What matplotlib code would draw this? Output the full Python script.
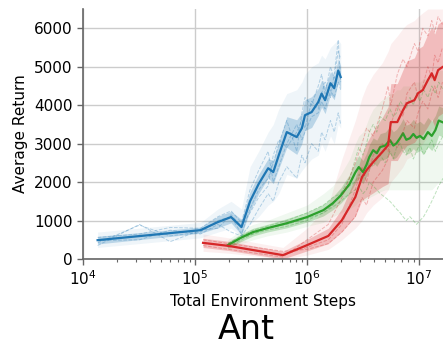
import numpy as np
import matplotlib.pyplot as plt

# blue run (short, ~2e6 steps)
blue_x = [1.35e4, 1.12e5, 1.6e5, 2.1e5, 2.6e5, 3.1e5, 3.7e5, 4.5e5, 5.0e5, 5.6e5, 6.6e5,
          8.1e5, 9.0e5, 9.6e5, 1.1e6, 1.26e6, 1.35e6, 1.45e6, 1.62e6, 1.75e6, 1.9e6, 2.0e6]
blue_mean = [490, 750, 960, 1090, 830, 1500, 1950, 2360, 2260, 2700, 3300,
             3170, 3400, 3740, 3820, 4080, 4300, 4130, 4570, 4440, 4900, 4730]
blue_std = [100, 80, 150, 150, 200, 250, 250, 250, 300, 350, 400,
            450, 400, 400, 400, 350, 350, 350, 300, 300, 300, 300]
blue_min = [300, 550, 700, 800, 600, 900, 1100, 1400, 1500, 1700, 2200,
            2100, 2300, 2400, 2600, 2700, 3000, 2800, 3200, 3000, 3500, 3400]
blue_max = [700, 950, 1300, 1500, 1300, 2400, 2800, 3300, 3500, 3900, 4300,
            4400, 4600, 4800, 5000, 5100, 5300, 5200, 5500, 5600, 5700, 5600]
blue_run_x = [1.35e4, 3.2e4, 6.0e4, 1.12e5, 1.6e5, 2.1e5, 2.6e5, 3.1e5, 3.7e5, 4.5e5, 5.0e5, 5.6e5,
              6.6e5, 8.1e5, 9.0e5, 9.6e5, 1.1e6, 1.26e6, 1.35e6, 1.45e6, 1.62e6, 1.75e6, 1.9e6, 2.0e6]
blue_runs = [
    [420, 880, 600, 700, 1000, 1100, 650, 1300, 1800, 2100, 2500, 3000,
     3600, 2800, 3800, 4200, 4000, 4500, 4800, 4300, 5000, 4700, 5400, 5200],
    [560, 650, 820, 800, 1100, 1250, 950, 1800, 2300, 2800, 2000, 2400,
     3000, 3500, 3100, 3300, 3700, 3800, 4100, 3900, 4400, 4200, 4600, 4400],
    [350, 900, 450, 750, 800, 1150, 850, 1200, 1600, 1900, 2700, 3100,
     2900, 3300, 3600, 3400, 4100, 3900, 4300, 4600, 4200, 4800, 5700, 4600],
    [480, 500, 750, 650, 900, 700, 600, 900, 1300, 1700, 1500, 2000,
     2400, 2100, 2700, 2500, 3000, 2800, 3300, 3100, 3600, 3300, 3800, 3500],
]

# green
green_x = [1.96e5, 2.6e5, 3.3e5, 4.4e5, 6.6e5, 1.0e6, 1.4e6, 1.7e6, 2.0e6, 2.4e6,
           2.7e6, 2.9e6, 3.16e6, 3.4e6, 3.6e6, 3.9e6, 4.2e6, 4.5e6, 5.0e6, 5.5e6,
           5.9e6, 6.3e6, 6.8e6, 7.2e6, 7.7e6, 8.3e6, 8.9e6, 9.5e6, 1.02e7, 1.1e7,
           1.2e7, 1.3e7, 1.4e7, 1.5e7, 1.64e7]
green_mean = [360, 560, 700, 800, 930, 1090, 1270, 1450, 1650, 1950,
              2250, 2390, 2260, 2450, 2650, 2830, 2750, 2910, 2950, 3090,
              2950, 3010, 3150, 3270, 3100, 3140, 3250, 3150, 3200, 3120,
              3300, 3200, 3350, 3600, 3550]
green_std = [80, 100, 100, 100, 120, 130, 150, 170, 200, 250,
             280, 300, 300, 300, 320, 320, 340, 350, 350, 350,
             360, 360, 360, 380, 380, 380, 380, 380, 380, 380,
             380, 380, 380, 380, 380]
green_min = [250, 400, 500, 600, 700, 850, 950, 1100, 1200, 1300,
             1400, 1500, 1500, 1550, 1600, 1650, 1700, 1750, 1800, 1800,
             1800, 1800, 1800, 1800, 1800, 1800, 1800, 1800, 1800, 1800,
             1800, 1800, 1900, 2000, 2000]
green_max = [500, 750, 900, 1000, 1200, 1400, 1700, 1900, 2200, 2600,
             3000, 3200, 3300, 3500, 3700, 3900, 4000, 4100, 4200, 4300,
             4300, 4400, 4400, 4500, 4500, 4500, 4600, 4600, 4600, 4700,
             4700, 4800, 4800, 4900, 4900]
green_runs = [
    [300, 500, 650, 750, 850, 1000, 1200, 1400, 1700, 2100, 2600, 2900, 2700, 3000, 3300, 3500, 3300, 3700,
     3600, 3900, 3700, 3800, 4100, 4000, 3900, 4200, 4000, 4300, 4100, 4400, 4200, 4500, 4300, 4600, 4400],
    [400, 600, 750, 850, 1000, 1200, 1400, 1600, 1700, 1900, 2000, 2200, 2100, 2300, 2500, 2400, 2600, 2700,
     2500, 2800, 2600, 2900, 3000, 2800, 2700, 2900, 2600, 2800, 3000, 2700, 2900, 3100, 2800, 3000, 3200],
    [350, 550, 650, 800, 900, 1050, 1200, 1350, 1500, 1700, 1800, 1900, 1700, 1800, 2000, 1900, 1800, 1700,
     1600, 1500, 1400, 1300, 1200, 1100, 1000, 1100, 1000, 900, 1000, 1100, 1300, 1500, 1700, 1900, 2100],
]

# red
red_x = [1.18e5, 2.0e5, 6.1e5, 1.0e6, 1.55e6, 2.05e6, 2.7e6, 3.1e6, 3.4e6, 3.9e6, 4.7e6, 5.3e6,
         5.6e6, 6.4e6, 7.2e6, 7.8e6, 9.1e6, 9.8e6, 1.08e7, 1.2e7, 1.3e7, 1.38e7, 1.48e7, 1.62e7]
red_mean = [420, 340, 100, 360, 600, 1010, 1610, 2130, 2310, 2520, 2780, 2960,
            3560, 3560, 3870, 4050, 4130, 4310, 4390, 4650, 4830, 4650, 4910, 4990]
red_std = [120, 120, 100, 150, 200, 300, 500, 600, 700, 800, 900, 1000,
           1000, 1000, 1050, 1100, 1100, 1150, 1150, 1200, 1200, 1200, 1200, 1200]
red_min = [200, 150, 0, 100, 250, 500, 800, 1000, 1200, 1400, 1600, 1800,
           2000, 2200, 2400, 2600, 2700, 2900, 3000, 3200, 3400, 3300, 3500, 3600]
red_max = [650, 550, 300, 800, 1400, 2600, 3600, 4200, 4500, 4800, 5100, 5400,
           5600, 5800, 6000, 6100, 6200, 6300, 6400, 6500, 6500, 6500, 6500, 6500]
red_runs = [
    [350, 250, 50, 500, 900, 1600, 2500, 3000, 3400, 3200, 3900, 4500,
     4000, 4800, 5200, 5000, 5600, 5400, 6000, 5800, 6200, 5900, 6300, 6100],
    [500, 400, 200, 250, 400, 700, 1100, 1600, 1400, 2000, 2300, 2600,
     3100, 2900, 3300, 3600, 3400, 3800, 4100, 3900, 4300, 4500, 4200, 4600],
    [400, 350, 100, 300, 500, 900, 1800, 2400, 2000, 2700, 3000, 2800,
     3500, 4000, 3700, 4300, 4600, 4200, 4500, 5000, 4700, 5300, 5100, 5500],
]

fig = plt.figure(figsize=(4.43, 3.45), dpi=100)
ax = fig.add_axes([83 / 443, 86 / 345, 1 - 83 / 443, 250 / 345])


def draw(ax, x, mean, std, lo, hi, runs, color, run_x=None):
    x = np.array(x)
    mean = np.array(mean)
    std = np.array(std)
    if run_x is None:
        run_x = x
    ax.fill_between(x, lo, hi, color=color, alpha=0.07, lw=0)
    for r in runs:
        ax.plot(run_x, r, color=color, ls='--', lw=0.7, alpha=0.3)
    ax.fill_between(x, mean - std, mean + std, color=color, alpha=0.25, lw=0)
    ax.plot(x, mean, color=color, lw=1.6)


draw(ax, green_x, green_mean, green_std, green_min, green_max, green_runs, '#2ca02c')
draw(ax, red_x, red_mean, red_std, red_min, red_max, red_runs, '#d62728')
draw(ax, blue_x, blue_mean, blue_std, blue_min, blue_max, blue_runs, '#1f77b4', run_x=blue_run_x)

ax.set_xscale('log')
ax.set_xlim(1e4, 10 ** (4 + 360 / 112))
ax.set_ylim(0, 6500)
ax.set_yticks([0, 1000, 2000, 3000, 4000, 5000, 6000])
ax.grid(True, which='major', color='#cccccc', lw=1)
ax.set_axisbelow(True)

for s in ['top', 'right']:
    ax.spines[s].set_visible(False)
for s in ['left', 'bottom']:
    ax.spines[s].set_color('#666666')
    ax.spines[s].set_linewidth(1.2)
ax.tick_params(which='major', length=4, width=1, color='#666666', labelsize=11)
ax.tick_params(which='minor', length=2.5, width=0.8, color='#666666')

ax.set_xlabel('Total Environment Steps', fontsize=11)
ax.set_ylabel('Average Return', fontsize=11)
fig.text(246 / 443, 6 / 345, 'Ant', fontsize=24, ha='center', va='baseline')

plt.savefig('out.png', dpi=100)
